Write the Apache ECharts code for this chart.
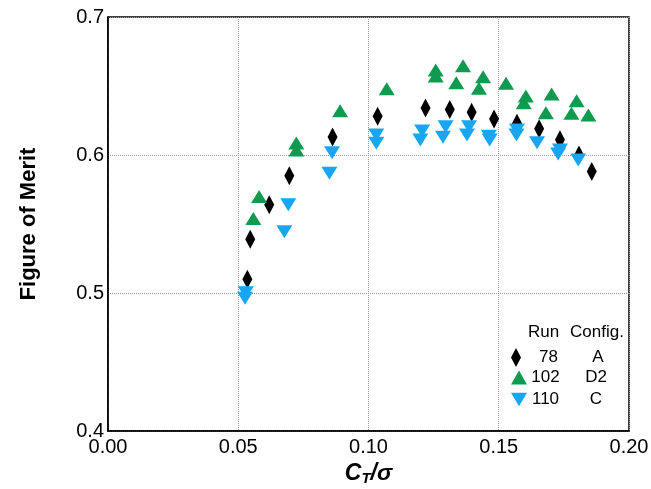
<!DOCTYPE html>
<html>
<head>
<meta charset="utf-8">
<script src="https://cdn.jsdelivr.net/npm/echarts@6/dist/echarts.min.js"></script>
<style>
  html, body { margin: 0; padding: 0; background: #fff; }
  #chart { width: 651px; height: 489px; }
</style>
</head>
<body>
<div id="chart"></div>
<script>
// Rotor figure of merit versus blade loading coefficient, three test runs.
const xTicks = [0, 0.05, 0.10, 0.15, 0.20];
const yTicks = [0.4, 0.5, 0.6, 0.7];

const runs = ['78', '102', '110'];
const configs = ['A', 'D2', 'C'];
const colors = ['#000000', '#0e9a4f', '#18a6f3'];

// Run 78, configuration A: [CT/sigma, FM]
const run78 = [
  [0.0535, 0.510], [0.0546, 0.539], [0.0619, 0.564], [0.0696, 0.585],
  [0.0862, 0.613], [0.1035, 0.628], [0.1219, 0.634], [0.1312, 0.633],
  [0.1396, 0.631], [0.1482, 0.626], [0.1570, 0.623], [0.1655, 0.619],
  [0.1735, 0.611], [0.1808, 0.600], [0.1857, 0.588]
];

// Run 102, configuration D2
const run102 = [
  [0.0558, 0.554], [0.0580, 0.570], [0.0723, 0.6087], [0.0723, 0.6036],
  [0.0891, 0.632], [0.1070, 0.648], [0.1258, 0.6616], [0.1258, 0.6572],
  [0.1337, 0.6524], [0.1363, 0.6647], [0.1440, 0.6567], [0.1424, 0.6483],
  [0.1528, 0.652], [0.1604, 0.6428], [0.1596, 0.6379], [0.1703, 0.6442],
  [0.1681, 0.6307], [0.1799, 0.6393], [0.1779, 0.6302], [0.1844, 0.629]
];

// Run 110, configuration C
const run110 = [
  [0.0529, 0.5002], [0.0526, 0.4962], [0.0692, 0.564], [0.0677, 0.5444],
  [0.0860, 0.6017], [0.0850, 0.5867], [0.1030, 0.6145], [0.1030, 0.6085],
  [0.1206, 0.6174], [0.1199, 0.6109], [0.1296, 0.6205], [0.1286, 0.6128],
  [0.1386, 0.6205], [0.1378, 0.6145], [0.1465, 0.6109], [0.1462, 0.6135],
  [0.1570, 0.6181], [0.1568, 0.6145], [0.1647, 0.6089], [0.1735, 0.6036],
  [0.1728, 0.6007], [0.1805, 0.5964]
];

const seriesData = [run78, run102, run110];
const symbols = ['diamond', 'triangle', 'path://M0,0 L2,0 L1,1.7 Z'];
const symbolSizes = [[10, 19], [16, 13], [16, 13]];

const FONT = 'Liberation Sans, Arial, Helvetica, sans-serif';

const chart = echarts.init(document.getElementById('chart'), null, { renderer: 'canvas' });

const series = runs.map((r, i) => ({
  name: r,
  type: 'scatter',
  data: seriesData[i],
  symbol: symbols[i],
  symbolSize: symbolSizes[i],
  itemStyle: { color: colors[i], opacity: 1 },
  emphasis: { disabled: true },
  z: 2 + i
}));

// One legend block per run so each marker keeps its own proportions
const legendTops = [343, 364, 386];
const runWidths = [45, 27, 27];
const cfgWidths = [54, 74, 74];
const legends = runs.map((r, i) => ({
  data: [{ name: r, icon: symbols[i] }],
  left: 506,
  top: legendTops[i],
  itemWidth: symbolSizes[i][0],
  itemHeight: i === 0 ? 19 : 14,
  itemGap: 0,
  selectedMode: false,
  formatter: name => '{run|' + name + '}{cfg|' + configs[runs.indexOf(name)] + '}',
  textStyle: {
    fontFamily: FONT,
    fontSize: 17,
    color: '#000',
    rich: {
      run: { width: runWidths[i], align: 'right', fontSize: 17, fontFamily: FONT },
      cfg: { width: cfgWidths[i], align: 'center', fontSize: 17, fontFamily: FONT }
    }
  }
}));

chart.setOption({
  animation: false,
  backgroundColor: '#fff',
  grid: {
    left: 108, right: 22, top: 17, bottom: 58,
    outerBoundsMode: 'none',
    show: true, borderColor: '#000', borderWidth: 1.5
  },
  xAxis: {
    type: 'value',
    min: xTicks[0], max: xTicks[xTicks.length - 1], interval: 0.05,
    name: '{i|C}{s|T}{i|/σ}',
    nameLocation: 'middle',
    nameGap: 25,
    nameTextStyle: {
      rich: {
        i: { fontFamily: FONT, fontSize: 23, fontWeight: 'bold', fontStyle: 'italic', color: '#000' },
        s: { fontFamily: FONT, fontSize: 15, fontWeight: 'bold', fontStyle: 'italic', color: '#000', padding: [10, 0, 0, 0] }
      }
    },
    axisLine: { show: true, lineStyle: { color: '#000', width: 1.5 } },
    axisTick: { show: false },
    axisLabel: {
      fontFamily: FONT, fontSize: 20, color: '#000', margin: 6,
      formatter: v => v.toFixed(2)
    },
    splitLine: { show: true, lineStyle: { color: '#9a9a9a', type: 'dotted', width: 1 } }
  },
  yAxis: {
    type: 'value',
    min: yTicks[0], max: yTicks[yTicks.length - 1], interval: 0.1,
    name: 'Figure of Merit',
    nameLocation: 'middle',
    nameGap: 68,
    nameTextStyle: { fontFamily: FONT, fontSize: 22, fontWeight: 'bold', color: '#000' },
    axisLine: { show: true, lineStyle: { color: '#000', width: 1.5 } },
    axisTick: { show: false },
    axisLabel: {
      fontFamily: FONT, fontSize: 20, color: '#000', margin: 4,
      formatter: v => v.toFixed(1)
    },
    splitLine: { show: true, lineStyle: { color: '#9a9a9a', type: 'dotted', width: 1 } }
  },
  legend: legends,
  graphic: [
    { type: 'text', left: 528, top: 324, style: { text: 'Run', fontFamily: FONT, fontSize: 17, fill: '#000' } },
    { type: 'text', left: 570, top: 324, style: { text: 'Config.', fontFamily: FONT, fontSize: 17, fill: '#000' } }
  ],
  series: series
});
</script>
</body>
</html>
